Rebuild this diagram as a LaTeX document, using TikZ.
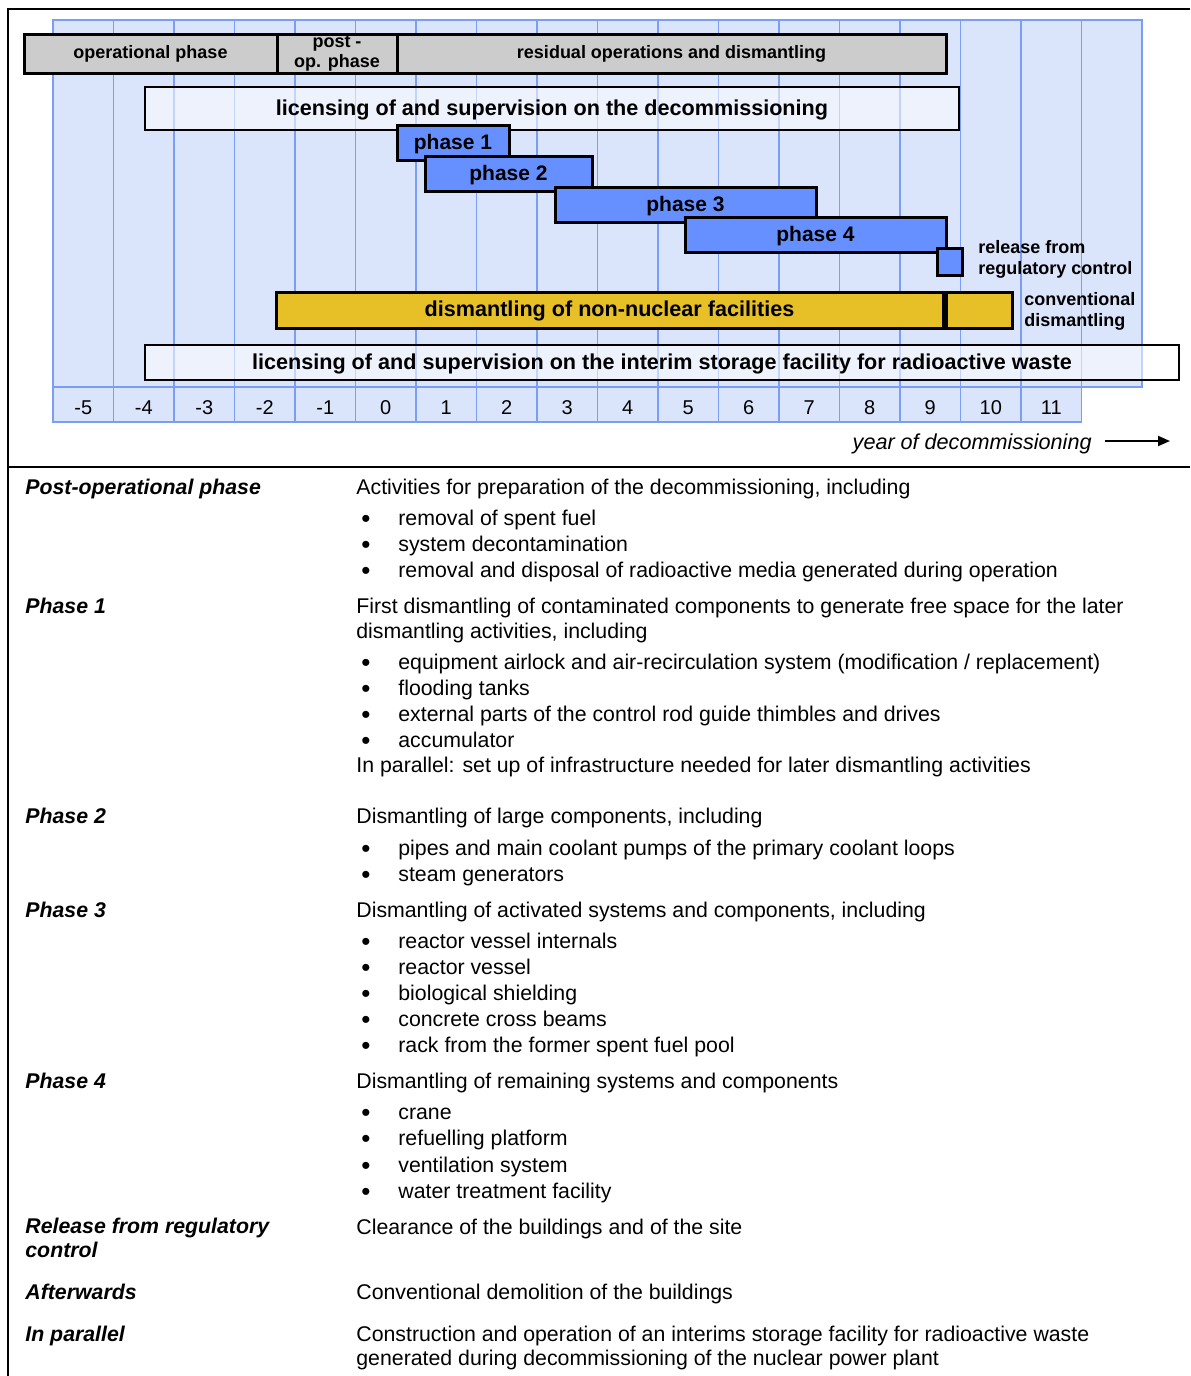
\documentclass[tikz,border=0pt]{standalone}
\usepackage{fontspec}
\setmainfont{Liberation Sans}
\usetikzlibrary{arrows.meta}
\definecolor{gridfill}{RGB}{218,228,251}
\definecolor{gridline}{RGB}{122,158,245}
\definecolor{boxgrey}{RGB}{204,204,204}
\definecolor{phaseblue}{RGB}{102,143,255}
\definecolor{dismyellow}{RGB}{230,192,38}
\newcommand{\listdot}{\llap{{\fontsize{13}{13}\selectfont\raisebox{-1.3pt}{\textbullet}}\hspace{14pt}}}

\begin{document}
\begin{tikzpicture}[x=0.5pt,y=-0.5pt]
\tikzset{
  frame/.style={line width=1pt},
  gridline/.style={draw=gridline,line width=0.8pt},
  greybox/.style={draw,line width=1.5pt,fill=boxgrey,inner sep=0pt,align=center,minimum height=19.5pt,font=\bfseries\fontsize{9}{10}\selectfont},
  licbox/.style={draw,line width=1.2pt,fill=white,fill opacity=0.55,text opacity=1,inner sep=0pt,text height=9pt,font=\bfseries\fontsize{10.8}{12}\selectfont},
  phasebox/.style={draw,line width=1.5pt,fill=phaseblue,inner sep=0pt,minimum height=17.5pt,text height=9pt,font=\bfseries\fontsize{10.5}{12}\selectfont},
  dismbox/.style={draw,line width=1.5pt,fill=dismyellow,inner sep=0pt,minimum height=18pt,text height=9pt,font=\bfseries\fontsize{10.8}{12}\selectfont},
  sidelabel/.style={anchor=north west,inner sep=0pt,align=left,font=\bfseries\fontsize{9}{10.5}\selectfont},
  yearcell/.style={draw=gridline,fill=gridfill,line width=0.8pt,minimum width=30.25pt,minimum height=17.5pt,inner sep=0pt,text height=9.6pt,text depth=0pt,font=\fontsize{10}{12}\selectfont},
  yeartext/.style={anchor=base east,inner sep=0pt,font=\itshape\fontsize{10.8}{13}\selectfont},
  yeararrow/.style={-{Triangle[length=6pt,width=5pt]},line width=1pt},
  head/.style={anchor=base west,inner sep=0pt,font=\bfseries\itshape\fontsize{10.65}{12}\selectfont},
  body/.style={anchor=base west,inner sep=0pt,font=\fontsize{10.65}{13}\selectfont},
  item/.style={body}
}
\useasboundingbox (0,0) rectangle (1190,1376);
% frame
\draw[frame] (8,1376) -- (8,9) -- (1190,9);
\draw[frame] (8,467) -- (1190,467);
% background grid
\draw[gridline,fill=gridfill] (53,20) rectangle (1142,387);
\draw[gridline] (113.5,20) -- (113.5,387);
\draw[gridline] (174,20) -- (174,387);
\draw[gridline] (234.5,20) -- (234.5,387);
\draw[gridline] (295,20) -- (295,387);
\draw[gridline] (355.5,20) -- (355.5,387);
\draw[gridline] (416,20) -- (416,387);
\draw[gridline] (476.5,20) -- (476.5,387);
\draw[gridline] (537,20) -- (537,387);
\draw[gridline] (597.5,20) -- (597.5,387);
\draw[gridline] (658,20) -- (658,387);
\draw[gridline] (718.5,20) -- (718.5,387);
\draw[gridline] (779,20) -- (779,387);
\draw[gridline] (839.5,20) -- (839.5,387);
\draw[gridline] (900,20) -- (900,387);
\draw[gridline] (960.5,20) -- (960.5,387);
\draw[gridline] (1021,20) -- (1021,387);
\draw[gridline] (1081.5,20) -- (1081.5,387);
% years
\node[yearcell] (n_ym5) at (83.25,404.5) {-5};
\node[yearcell] (n_ym4) at (143.75,404.5) {-4};
\node[yearcell] (n_ym3) at (204.25,404.5) {-3};
\node[yearcell] (n_ym2) at (264.75,404.5) {-2};
\node[yearcell] (n_ym1) at (325.25,404.5) {-1};
\node[yearcell] (n_y0) at (385.75,404.5) {0};
\node[yearcell] (n_y1) at (446.25,404.5) {1};
\node[yearcell] (n_y2) at (506.75,404.5) {2};
\node[yearcell] (n_y3) at (567.25,404.5) {3};
\node[yearcell] (n_y4) at (627.75,404.5) {4};
\node[yearcell] (n_y5) at (688.25,404.5) {5};
\node[yearcell] (n_y6) at (748.75,404.5) {6};
\node[yearcell] (n_y7) at (809.25,404.5) {7};
\node[yearcell] (n_y8) at (869.75,404.5) {8};
\node[yearcell] (n_y9) at (930.25,404.5) {9};
\node[yearcell] (n_y10) at (990.75,404.5) {10};
\node[yearcell] (n_y11) at (1051.25,404.5) {11};
% bars
\node[greybox,minimum width=126.5pt] (n_oper) at (150.5,53.5) {operational phase};
\node[greybox,minimum width=60pt] (n_post) at (337,53.5) {post -\\op. phase};
\node[greybox,minimum width=274.5pt] (n_resid) at (671.5,53.5) {residual operations and dismantling};
\node[licbox,minimum width=407pt,minimum height=21.5pt] (n_licdec) at (552,108.5) {licensing of and supervision on the decommissioning};
\node[phasebox,minimum width=56pt] (n_ph1) at (453,142.5) {phase 1};
\node[phasebox,minimum width=83.5pt] (n_ph2) at (508.5,173.5) {phase 2};
\node[phasebox,minimum width=130.5pt] (n_ph3) at (685.5,204.5) {phase 3};
\node[phasebox,minimum width=130.5pt] (n_ph4) at (815.5,234.5) {phase 4};
\node[phasebox,minimum width=12.5pt,minimum height=13.5pt] (n_rel) at (949.5,261.5) {};
\node[sidelabel] (n_reltxt) at (978,240) {release from\\regulatory control};
\node[dismbox,minimum width=333.5pt] (n_dism) at (609.5,310) {dismantling of non-nuclear facilities};
\node[dismbox,minimum width=33pt] (n_conv) at (979,310) {};
\node[sidelabel] (n_convtxt) at (1024,292) {conventional\\dismantling};
\node[licbox,minimum width=517pt,minimum height=17.5pt] (n_licint) at (662,362.5) {licensing of and supervision on the interim storage facility for radioactive waste};
% axis title
\node[yeartext] (n_year) at (1092,449) {year of decommissioning};
\coordinate (n_arrowtail) at (1105,441);
\coordinate (n_arrowtip) at (1170,441);
\draw[yeararrow] (n_arrowtail) -- (n_arrowtip);
% legend text
\node[head] (n_h_post) at (25,494) {Post-operational phase};
\node[body] (n_t_post) at (356,494) {Activities for preparation of the decommissioning, including};
\node[item] (n_i_post1) at (398,525) {\listdot removal of spent fuel};
\node[item] (n_i_post2) at (398,551) {\listdot system decontamination};
\node[item] (n_i_post3) at (398,577) {\listdot removal and disposal of radioactive media generated during operation};
\node[head] (n_h_ph1) at (25,613) {Phase 1};
\node[body] (n_t_ph1a) at (356,613) {First dismantling of contaminated components to generate free space for the later};
\node[body] (n_t_ph1b) at (356,638) {dismantling activities, including};
\node[item] (n_i_ph1a) at (398,669) {\listdot equipment airlock and air-recirculation system (modification / replacement)};
\node[item] (n_i_ph1b) at (398,695) {\listdot flooding tanks};
\node[item] (n_i_ph1c) at (398,721) {\listdot external parts of the control rod guide thimbles and drives};
\node[item] (n_i_ph1d) at (398,747) {\listdot accumulator};
\node[body] (n_t_ph1c) at (356,772) {In parallel: set up of infrastructure needed for later dismantling activities};
\node[head] (n_h_ph2) at (25,823) {Phase 2};
\node[body] (n_t_ph2) at (356,823) {Dismantling of large components, including};
\node[item] (n_i_ph2a) at (398,855) {\listdot pipes and main coolant pumps of the primary coolant loops};
\node[item] (n_i_ph2b) at (398,881) {\listdot steam generators};
\node[head] (n_h_ph3) at (25,917) {Phase 3};
\node[body] (n_t_ph3) at (356,917) {Dismantling of activated systems and components, including};
\node[item] (n_i_ph3a) at (398,948) {\listdot reactor vessel internals};
\node[item] (n_i_ph3b) at (398,974) {\listdot reactor vessel};
\node[item] (n_i_ph3c) at (398,1000) {\listdot biological shielding};
\node[item] (n_i_ph3d) at (398,1026) {\listdot concrete cross beams};
\node[item] (n_i_ph3e) at (398,1052) {\listdot rack from the former spent fuel pool};
\node[head] (n_h_ph4) at (25,1088) {Phase 4};
\node[body] (n_t_ph4) at (356,1088) {Dismantling of remaining systems and components};
\node[item] (n_i_ph4a) at (398,1119) {\listdot crane};
\node[item] (n_i_ph4b) at (398,1145) {\listdot refuelling platform};
\node[item] (n_i_ph4c) at (398,1172) {\listdot ventilation system};
\node[item] (n_i_ph4d) at (398,1198) {\listdot water treatment facility};
\node[head,anchor=north west,align=left] (n_h_rel) at (25,1218) {Release from regulatory\\control};
\node[body] (n_t_rel) at (356,1234) {Clearance of the buildings and of the site};
\node[head] (n_h_after) at (25,1299) {Afterwards};
\node[body] (n_t_after) at (356,1299) {Conventional demolition of the buildings};
\node[head] (n_h_par) at (25,1341) {In parallel};
\node[body] (n_t_para) at (356,1341) {Construction and operation of an interims storage facility for radioactive waste};
\node[body] (n_t_parb) at (356,1365) {generated during decommissioning of the nuclear power plant};
\end{tikzpicture}
\end{document}
